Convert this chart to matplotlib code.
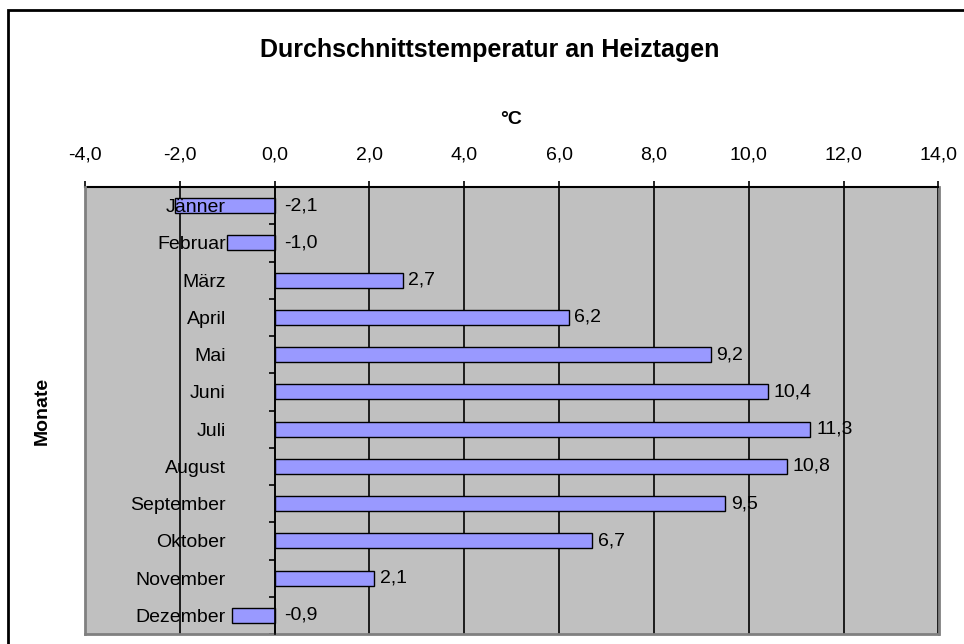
import matplotlib
matplotlib.use("Agg")
import matplotlib.pyplot as plt
from matplotlib.patches import Rectangle
from matplotlib.ticker import FuncFormatter, FixedLocator
import numpy as np

plt.rcParams['font.family'] = ['Liberation Sans', 'DejaVu Sans']

months = ["Jänner", "Februar", "März", "April", "Mai", "Juni", "Juli",
          "August", "September", "Oktober", "November", "Dezember"]
temps = [-2.1, -1.0, 2.7, 6.2, 9.2, 10.4, 11.3, 10.8, 9.5, 6.7, 2.1, -0.9]
xticks = [-4, -2, 0, 2, 4, 6, 8, 10, 12, 14]
title = "Durchschnittstemperatur an Heiztagen"
xlabel = "°C"
ylabel = "Monate"

W, H = 964, 644
fig = plt.figure(figsize=(W / 100, H / 100), dpi=100)

# plot area in pixel coordinates
L, R, T, B = 85, 938.5, 187, 634
ax = fig.add_axes([L / W, 1 - B / H, (R - L) / W, (B - T) / H])
ax.set_facecolor("#C0C0C0")

y = np.arange(len(months))
ax.barh(y, temps, height=0.4, color="#9999FF", edgecolor="black",
        linewidth=1.0, zorder=3)

ax.set_xlim(-4, 14)
ax.set_ylim(len(months) - 0.5, -0.5)

# x axis on top
ax.xaxis.tick_top()
ax.set_xticks(xticks)
ax.xaxis.set_major_formatter(FuncFormatter(lambda v, p: f"{v:.1f}".replace(".", ",")))
ax.tick_params(axis="x", direction="out", length=4, width=1.2, color="black",
               labelsize=14, pad=13)
ax.grid(axis="x", color="black", linewidth=1.2, zorder=1)
ax.set_axisbelow(True)

# y axis at x = 0
ax.spines["left"].set_position(("data", 0))
ax.spines["left"].set_color("black")
ax.spines["left"].set_linewidth(1.2)
ax.spines["left"].set_zorder(4)
ax.set_yticks(y)
ax.set_yticklabels([])
ax.yaxis.set_minor_locator(FixedLocator(np.arange(-0.5, len(months), 1.0)))
ax.tick_params(axis="y", which="major", length=0)
ax.tick_params(axis="y", which="minor", length=4, width=1.2, direction="out",
               color="black")

# category labels drawn above bars
for yi, m in zip(y, months):
    ax.annotate(m, xy=(0, yi), xytext=(-35, 0), textcoords="offset points",
                ha="right", va="center_baseline", fontsize=14, zorder=7)

ax.spines["top"].set_color("black")
ax.spines["top"].set_linewidth(1.5)
for s in ("right", "bottom"):
    ax.spines[s].set_color("#808080")
    ax.spines[s].set_linewidth(2)
# left border of the plot area
ax.plot([0, 0], [0, 1], transform=ax.transAxes, color="#808080",
        linewidth=2, clip_on=False, zorder=5)

# value labels
for yi, v in zip(y, temps):
    off = 4 if v >= 0 else 7
    ax.annotate(f"{v:.1f}".replace(".", ","), xy=(max(v, 0), yi),
                xytext=(off, 0), textcoords="offset points",
                ha="left", va="center", fontsize=14, zorder=6)

# texts
fig.text(490 / W, 1 - 50 / H, title, ha="center", va="center",
         fontsize=18, fontweight="bold")
fig.text(511 / W, 1 - 119 / H, xlabel, ha="center", va="center",
         fontsize=14, fontweight="bold")
fig.text(42 / W, 1 - 411 / H, ylabel, ha="center", va="center",
         fontsize=14, fontweight="bold", rotation=90)

# outer chart frame (extends past right/bottom edges)
fig.patches.append(Rectangle((7.5 / W, -0.1), 2, 1 - 10.5 / H + 0.1,
                             transform=fig.transFigure, fill=False,
                             edgecolor="black", linewidth=2))

fig.savefig("out.png", dpi=100)
